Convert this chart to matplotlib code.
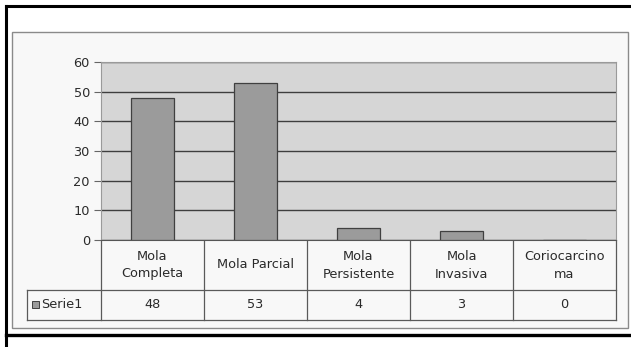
import numpy as np
import matplotlib.pyplot as plt
from matplotlib.patches import Rectangle

categorias = ['Mola\nCompleta', 'Mola Parcial', 'Mola\nPersistente', 'Mola\nInvasiva', 'Coriocarcino\nma']
serie1 = [48, 53, 4, 3, 0]
nome_serie = 'Serie1'
yticks = [0, 10, 20, 30, 40, 50, 60]

W, H = 631, 347
plt.rcParams['font.family'] = ['DejaVu Sans']
fs = 9.3
tc = '#2a2a2a'

fig = plt.figure(figsize=(W / 100, H / 100), dpi=100)
fig.patch.set_facecolor('white')

# overlay in pixel units for frames and the data table
bg = fig.add_axes([0, 0, 1, 1])
bg.set_xlim(0, W)
bg.set_ylim(H, 0)
bg.axis('off')

# outer black frame (right side runs off the image)
bg.plot([6, 6], [6, H], color='black', lw=2.2)
bg.plot([6, W], [6, 6], color='black', lw=2.2)
bg.plot([6, W], [335, 335], color='black', lw=2.4)
# chart area
bg.add_patch(Rectangle((12, 32), 616, 296, facecolor='#f8f8f8', edgecolor='#8a8a8a', lw=1.0))

# plot area
x0, x1, y_top, y_bot = 101, 616, 62, 240
ax = fig.add_axes([x0 / W, 1 - y_bot / H, (x1 - x0) / W, (y_bot - y_top) / H])
ax.set_facecolor('#d6d6d6')
n = len(categorias)
x = np.arange(n)
ax.bar(x, serie1, width=0.42, color='#9b9b9b', edgecolor='#404040', linewidth=0.9, zorder=3)
ax.set_xlim(-0.5, n - 0.5)
ax.set_ylim(0, 60)
ax.set_yticks(yticks)
ax.set_yticklabels([str(t) for t in yticks], fontsize=fs, color=tc)
ax.yaxis.grid(True, color='#3e3e3e', lw=1.0, zorder=1)
ax.set_xticks([])
ax.tick_params(axis='y', length=5, color='#666666', width=0.8, pad=3)
for s in ['top', 'right', 'left']:
    ax.spines[s].set_color('#9a9a9a')
ax.spines['bottom'].set_color('#555555')

# data table below the plot
col_w = (x1 - x0) / n
row1, row2, row3 = 240, 290, 320
lc = '#5a5a5a'
for i in range(n + 1):
    xx = x0 + i * col_w
    bg.plot([xx, xx], [row1, row3], color=lc, lw=0.9)
bg.plot([27, x1], [row2, row2], color=lc, lw=0.9)
bg.plot([27, x1], [row3, row3], color=lc, lw=0.9)
bg.plot([27, 27], [row2, row3], color=lc, lw=0.9)
for i, (c, v) in enumerate(zip(categorias, serie1)):
    cx = x0 + (i + 0.5) * col_w
    bg.text(cx, (row1 + row2) / 2, c, ha='center', va='center', fontsize=fs,
            color=tc, linespacing=1.5)
    bg.text(cx, (row2 + row3) / 2, str(v), ha='center', va='center', fontsize=fs, color=tc)
bg.add_patch(Rectangle((32, 301), 7, 7, facecolor='#9b9b9b', edgecolor='#404040', lw=0.7))
bg.text(41, (row2 + row3) / 2, nome_serie, ha='left', va='center', fontsize=fs, color=tc)

fig.savefig('out.png', dpi=100)
